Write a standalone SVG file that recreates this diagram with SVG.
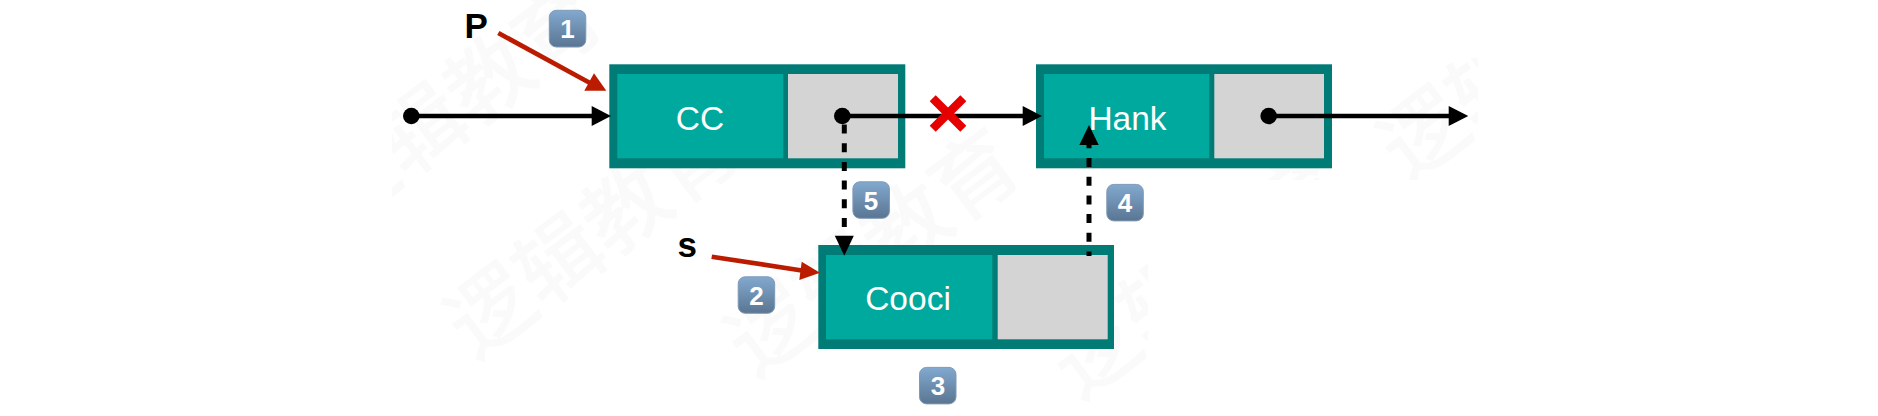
<svg xmlns="http://www.w3.org/2000/svg" width="1878" height="416" viewBox="0 0 1878 416">
<style>
text{font-family:"Liberation Sans",Arial,sans-serif}
.o{fill:#007b76}.t{fill:#00a99d}.g{fill:#d4d4d4}
.n{fill:#fff;font-size:33.5px;text-anchor:middle}
.l{fill:#000;font-size:35px;font-weight:bold}
.b{fill:url(#kb);stroke:#7f9ab6;stroke-width:1}
.d{fill:#fff;font-size:26px;font-weight:bold;text-anchor:middle}
.k{stroke:#000;stroke-width:4.5;fill:none}
.da{stroke-dasharray:9 9.7;stroke-width:5}
.r{stroke:#bb1c00;stroke-width:4.7;fill:none}
.h{fill:#000}.rh{fill:#bb1c00}
.w{fill:#fafafa;font-size:85px;font-weight:500;font-family:"Noto Sans CJK SC",sans-serif}
</style>
<defs>
<linearGradient id="kb" x1="0" y1="0" x2="0" y2="1"><stop offset="0" stop-color="#82a9cf"/><stop offset="1" stop-color="#5a7592"/></linearGradient>
<clipPath id="wc"><rect x="392" y="0" width="215" height="416"/><rect x="392" y="58" width="1086" height="122"/><rect x="392" y="180" width="756" height="236"/></clipPath>
</defs>
<rect width="1878" height="416" fill="#fff"/>
<g id="watermark" clip-path="url(#wc)">
<text class="w" transform="translate(475 361) rotate(-37)">逻辑教育</text>
<text class="w" transform="translate(338 231) rotate(-37)">逻辑教育</text>
<text class="w" transform="translate(755 379) rotate(-37)">逻辑教育</text>
<text class="w" transform="translate(1080 401) rotate(-37)">逻辑教育</text>
<text class="w" transform="translate(1408 184) rotate(-37)">逻辑</text>
</g>
<g id="node-cc">
<rect class="o" x="609.3" y="64.3" width="296" height="104"/>
<rect class="t" x="617.3" y="74" width="166" height="84.3"/>
<rect class="g" x="788" y="74" width="110" height="84.3"/>
<text class="n" x="700" y="129.5">CC</text>
</g>
<g id="node-hank">
<rect class="o" x="1036" y="64.3" width="296" height="104"/>
<rect class="t" x="1044" y="74" width="165.3" height="84.3"/>
<rect class="g" x="1214.3" y="74" width="109.7" height="84.3"/>
<text class="n" x="1127.5" y="129.5">Hank</text>
</g>
<g id="node-cooci">
<rect class="o" x="818.3" y="245" width="295.7" height="104"/>
<rect class="t" x="826" y="255" width="166.3" height="84.3"/>
<rect class="g" x="997.7" y="255" width="110" height="84.3"/>
<text class="n" x="908" y="310">Cooci</text>
</g>
<g id="label-p"><text class="l" x="464.5" y="38.3">P</text></g>
<g id="label-s"><text class="l" x="677.5" y="257">s</text></g>
<g id="connectors">
<circle cx="411.3" cy="116" r="8.3"/>
<path class="k" d="M411 116H595"/><path class="h" d="M591.7 106L611 116L591.7 126Z"/>
<circle cx="842.3" cy="116" r="8.3"/>
<path class="k" d="M842 116H1026"/><path class="h" d="M1022.7 106L1042 116L1022.7 126Z"/>
<circle cx="1268.7" cy="116" r="8.3"/>
<path class="k" d="M1268 116H1452"/><path class="h" d="M1448.7 106L1468.3 116L1448.7 126Z"/>
<path class="k da" d="M844.3 124.5V238"/><path class="h" d="M834.8 235.7L844.3 255.7L853.8 235.7Z"/>
<path class="k da" stroke-dashoffset="4.5" d="M1089 256V142"/><path class="h" d="M1079.3 145L1089 125L1098.7 145Z"/>
<path class="r" d="M498.3 33L590 83"/><path class="rh" d="M594 73.3L584.3 90.7L606.3 90.7Z"/>
<path class="r" d="M711.7 256.7L805 271"/><path class="rh" d="M801.7 261.7L799.3 280L820 272.7Z"/>
<path stroke="#e60000" stroke-width="8.5" fill="none" d="M932.7 98.2L963.3 128.8M963.3 98.2L932.7 128.8"/>
</g>
<g id="badge-1"><rect class="b" x="549.3" y="10.3" width="36.5" height="36.7" rx="7"/><text class="d" x="567.5" y="38">1</text></g>
<g id="badge-2"><rect class="b" x="738.2" y="276.8" width="36.5" height="36.5" rx="7"/><text class="d" x="756.5" y="304.5">2</text></g>
<g id="badge-3"><rect class="b" x="919.5" y="367.4" width="36.5" height="36.5" rx="7"/><text class="d" x="938" y="395">3</text></g>
<g id="badge-4"><rect class="b" x="1106.8" y="184.4" width="36.5" height="36.5" rx="7"/><text class="d" x="1125" y="212">4</text></g>
<g id="badge-5"><rect class="b" x="852.9" y="181.8" width="36.5" height="36.5" rx="7"/><text class="d" x="871" y="209.5">5</text></g>
</svg>
